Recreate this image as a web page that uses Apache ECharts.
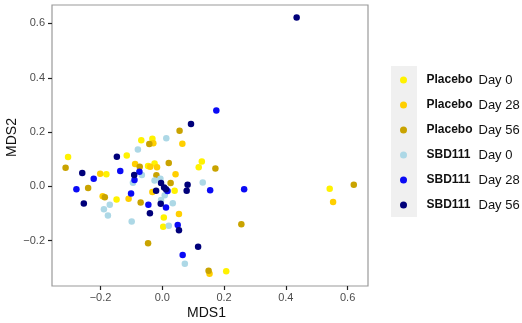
<!DOCTYPE html>
<html><head><meta charset="utf-8">
<script src="https://cdn.jsdelivr.net/npm/echarts@6/dist/echarts.min.js"></script>
<style>html,body{margin:0;padding:0;background:#fff}#c{width:522px;height:323px}</style>
</head><body><div id="c"></div>
<script>
const seriesNames = ["Placebo Day 0","Placebo Day 28","Placebo Day 56","SBD111 Day 0","SBD111 Day 28","SBD111 Day 56"];
const seriesColors = ["#FFF200","#FFCF00","#C9A300","#ADD8E6","#0A0AF5","#00007A"];
const xTicks = [-0.2, 0.0, 0.2, 0.4, 0.6];
const yTicks = [-0.2, 0.0, 0.2, 0.4, 0.6];

const placeboDay0 = [[-0.305,0.108],[-0.181,0.045],[-0.148,-0.048],[-0.115,0.114],[-0.068,0.170],[-0.032,0.175],[-0.025,0.084],[-0.046,0.075],[0.005,-0.115],[0.003,-0.149],[0.040,-0.016],[0.118,0.070],[0.128,0.092],[0.207,-0.313],[0.542,-0.009]];
const placeboDay28 = [[-0.201,0.046],[-0.193,-0.036],[-0.109,-0.046],[-0.088,0.082],[-0.029,0.159],[0.065,0.157],[-0.039,0.072],[-0.017,0.070],[0.043,0.045],[-0.032,-0.021],[0.054,-0.102],[0.153,-0.322],[0.553,-0.058]];
const placeboDay56 = [[-0.313,0.069],[-0.240,-0.006],[-0.186,-0.040],[-0.073,0.072],[-0.070,-0.059],[-0.042,0.156],[0.056,0.205],[0.021,0.086],[-0.019,0.041],[0.027,0.012],[0.172,0.066],[0.256,-0.140],[-0.046,-0.210],[0.150,-0.311],[0.620,0.006]];
const sbdDay0 = [[0.013,0.177],[-0.079,0.136],[-0.066,0.042],[-0.095,0.013],[-0.025,0.022],[-0.006,0.028],[0.008,-0.033],[-0.004,-0.050],[0.034,-0.062],[0.131,0.014],[-0.170,-0.068],[-0.189,-0.084],[-0.176,-0.107],[-0.099,-0.129],[0.021,-0.145],[0.073,-0.285]];
const sbdDay28 = [[0.175,0.279],[-0.136,0.057],[-0.222,0.028],[-0.278,-0.011],[-0.090,0.023],[-0.074,0.054],[-0.101,-0.026],[-0.045,-0.068],[0.012,-0.078],[0.017,-0.017],[0.155,-0.014],[0.265,-0.011],[0.050,-0.142],[0.066,-0.253]];
const sbdDay56 = [[0.435,0.622],[0.093,0.230],[-0.147,0.109],[-0.259,0.049],[-0.254,-0.063],[-0.091,0.042],[-0.004,0.012],[0.006,-0.004],[0.012,-0.011],[-0.020,-0.016],[0.082,0.006],[0.079,-0.016],[-0.040,-0.099],[-0.005,-0.064],[0.054,-0.162],[0.116,-0.222]];

const allData = [placeboDay0, placeboDay28, placeboDay56, sbdDay0, sbdDay28, sbdDay56];

function fmt(v){ return v.toFixed(1).replace('-', '\u2212'); }

const chart = echarts.init(document.getElementById('c'), null, {renderer:'canvas'});
chart.setOption({
  animation:false,
  backgroundColor:'#fff',
  grid:{left:52,right:154,top:5,bottom:37,outerBoundsMode:'none',containLabel:false,show:true,borderColor:'#9a9a9a',borderWidth:1.2,backgroundColor:'#fff'},
  xAxis:{type:'value',min:-0.357,max:0.666,
    name:'MDS1',nameLocation:'middle',nameGap:20,nameMoveOverlap:false,
    nameTextStyle:{fontFamily:'Liberation Sans',fontSize:14,color:'#111',padding:[0,7,0,0]},
    axisLine:{show:false,onZero:false},splitLine:{show:false},
    axisTick:{show:true,length:4,lineStyle:{color:'#222',width:1.2},customValues:xTicks},
    axisLabel:{customValues:xTicks,formatter:fmt,margin:6,fontFamily:'Liberation Sans',fontSize:11,color:'#4d4d4d'}},
  yAxis:{type:'value',min:-0.367,max:0.668,
    name:'MDS2',nameLocation:'middle',nameGap:33,nameRotate:90,nameMoveOverlap:false,
    nameTextStyle:{fontFamily:'Liberation Sans',fontSize:14,color:'#111',padding:[0,0,0,16]},
    axisLine:{show:false,onZero:false},splitLine:{show:false},
    axisTick:{show:true,length:4,lineStyle:{color:'#222',width:1.2},customValues:yTicks},
    axisLabel:{customValues:yTicks,formatter:fmt,margin:7,fontFamily:'Liberation Sans',fontSize:11,color:'#4d4d4d'}},
  graphic:[{type:'rect',left:391,top:66,shape:{width:26,height:151},style:{fill:'#f0f0f0'},z:-1}],
  legend:{orient:'vertical',left:400,top:72,padding:0,itemGap:9,itemWidth:8,itemHeight:7,icon:'circle',
    data:seriesNames,
    formatter:function(n){const i=n.lastIndexOf(' Day');return '{a|'+n.slice(0,i)+'}{b|'+n.slice(i+1)+'}';},
    textStyle:{lineHeight:16,rich:{
      a:{fontFamily:'Liberation Sans',fontWeight:'bold',fontSize:12,color:'#111',width:52,lineHeight:16,padding:[0,0,0,14]},
      b:{fontFamily:'Liberation Sans',fontSize:13,color:'#111',width:38,lineHeight:16}}}},
  series: seriesNames.map((n,i)=>({
    name:n,type:'scatter',data:allData[i],symbolSize:6.5,
    itemStyle:{color:seriesColors[i],opacity:1},
    emphasis:{disabled:true}
  }))
});
</script></body></html>
